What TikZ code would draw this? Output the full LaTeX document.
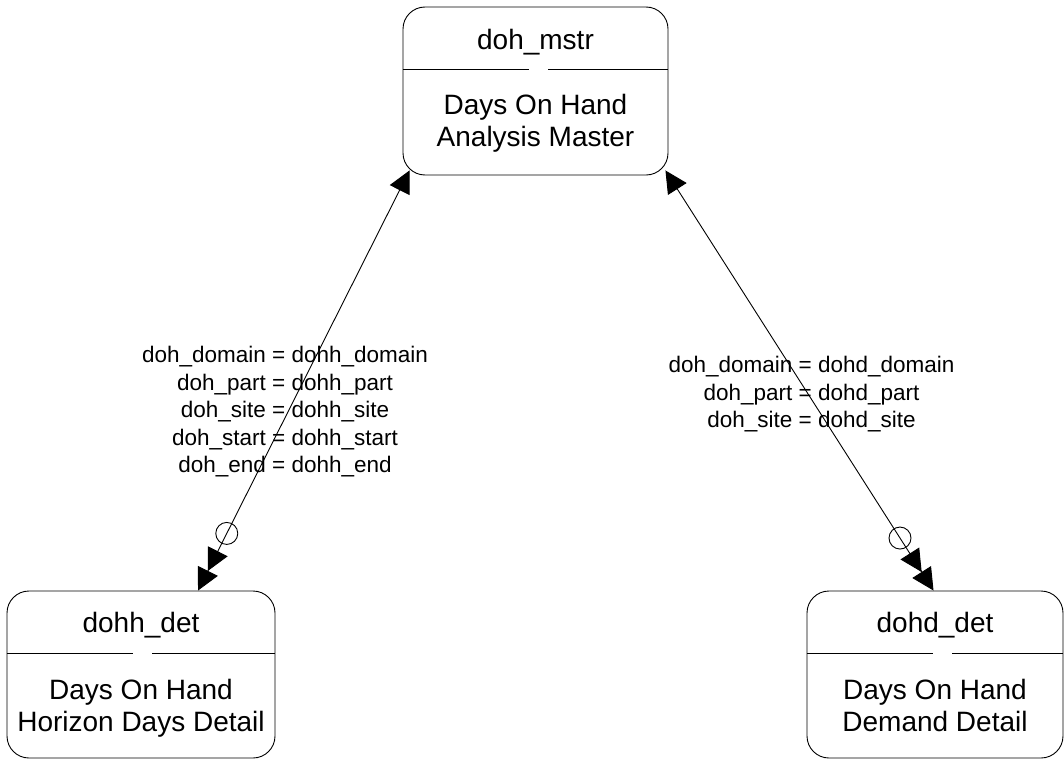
\documentclass[tikz,border=0pt]{standalone}
\usepackage{fontspec}
\setmainfont{Liberation Sans}
\usetikzlibrary{arrows.meta}
\begin{document}
\begin{tikzpicture}[x=1pt,y=-1pt,
  entbox/.style={draw,line width=0.9pt,rounded corners=22pt,inner sep=0pt},
  boxtxt/.style={font=\fontsize{28}{32}\selectfont,anchor=base,inner sep=0pt},
  reltxt/.style={font=\fontsize{22.5}{27.5}\selectfont,align=center,inner sep=0pt,anchor=north},
  conn/.style={line width=0.9pt},
  divider/.style={line width=0.8pt},
  circ/.style={circle,draw,line width=0.9pt,minimum size=22pt,inner sep=0pt},
  tri/.style={Triangle[length=22pt,width=22pt]}
]
\useasboundingbox (0,0) rectangle (1064,760);

% entity boxes
\node[entbox,minimum width=265pt,minimum height=168pt] (mstr) at (535.5,91) {};
\node[entbox,minimum width=268pt,minimum height=167pt] (dohh) at (141,674.5) {};
\node[entbox,minimum width=256pt,minimum height=167pt] (dohd) at (935,674.5) {};

% titles and bodies
\node[boxtxt] (mstrT) at ([yshift=-43pt]mstr.north) {doh\_mstr};
\node[boxtxt] (mstrB1) at ([yshift=-108pt]mstr.north) {Days On Hand};
\node[boxtxt] (mstrB2) at ([yshift=-140pt]mstr.north) {Analysis Master};

\node[boxtxt] (dohhT) at ([yshift=-42pt]dohh.north) {dohh\_det};
\node[boxtxt] (dohhB1) at ([yshift=-109pt]dohh.north) {Days On Hand};
\node[boxtxt] (dohhB2) at ([yshift=-141pt]dohh.north) {Horizon Days Detail};

\node[boxtxt] (dohdT) at ([yshift=-42pt]dohd.north) {dohd\_det};
\node[boxtxt] (dohdB1) at ([yshift=-109pt]dohd.north) {Days On Hand};
\node[boxtxt] (dohdB2) at ([yshift=-141pt]dohd.north) {Demand Detail};

% dividers with a small gap
\foreach \b in {mstr,dohh,dohd}{
  \draw[divider] ([yshift=-63pt]\b.north west) -- ++(126,0);
  \draw[divider] ([xshift=145.5pt,yshift=-63pt]\b.north west) -- ([yshift=-63pt]\b.north east);
}

% connectors
\draw[conn,{Triangle[length=22pt,width=22pt]}-{Triangle[length=22pt,width=22pt]Triangle[length=22pt,width=22pt]}]
  ([xshift=7pt,yshift=5pt]mstr.south west) -- node[circ,pos=0.864] (c1) {} ([xshift=57pt]dohh.north);
\draw[conn,{Triangle[length=22pt,width=22pt]}-{Triangle[length=22pt,width=22pt]Triangle[length=22pt,width=22pt]}]
  ([xshift=-3pt,yshift=5pt]mstr.south east) -- node[circ,pos=0.875] (c2) {} ([xshift=-1.5pt]dohd.north);

% relationship labels
\node[reltxt] (lblL) at (285,346) {doh\_domain = dohh\_domain\\doh\_part = dohh\_part\\doh\_site = dohh\_site\\doh\_start = dohh\_start\\doh\_end = dohh\_end};
\node[reltxt] (lblR) at (811.5,356) {doh\_domain = dohd\_domain\\doh\_part = dohd\_part\\doh\_site = dohd\_site};
\end{tikzpicture}
\end{document}
